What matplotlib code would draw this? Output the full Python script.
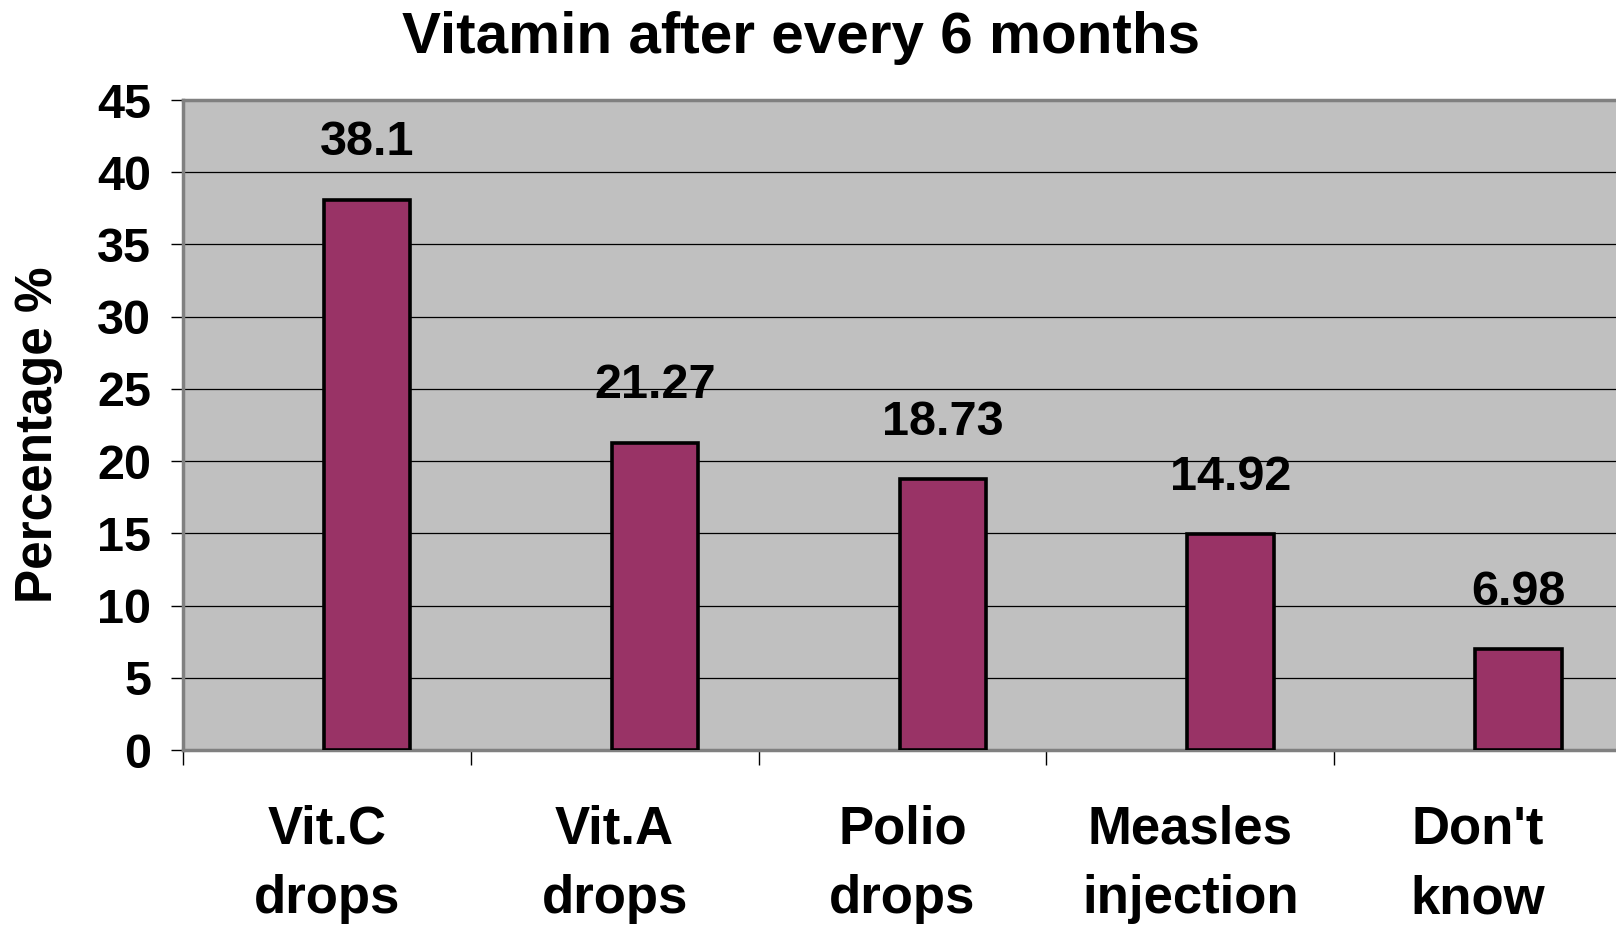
import numpy as np
import matplotlib
matplotlib.use("Agg")
import matplotlib.pyplot as plt

plt.rcParams['font.family'] = ['Liberation Sans', 'DejaVu Sans']
plt.rcParams['font.weight'] = 'bold'

# data
categories = ["Vit.C\ndrops", "Vit.A\ndrops", "Polio\ndrops", "Measles\ninjection", "Don't\nknow"]
values = [38.1, 21.27, 18.73, 14.92, 6.98]
value_labels = ["38.1", "21.27", "18.73", "14.92", "6.98"]
yticks = [0, 5, 10, 15, 20, 25, 30, 35, 40, 45]

fig = plt.figure(figsize=(16.16, 9.32), dpi=100)
ax = fig.add_axes([183/1616, 1 - 750/932, (1622-183)/1616, 650/932])
ax.set_facecolor('#C0C0C0')

x = np.arange(len(categories))
bars = ax.bar(x + 0.14, values, width=0.30, color='#993366',
              edgecolor='black', linewidth=2.6, zorder=3)

for xi, v, lab in zip(x, values, value_labels):
    ax.annotate(lab, (xi + 0.14, v), xytext=(0, 32), textcoords='offset points',
                ha='center', va='baseline', fontsize=35, fontweight='bold')

ax.set_xlim(-0.5, 4.5)
ax.set_ylim(0, 45)
ax.set_yticks(yticks)
ax.yaxis.grid(True, color='black', linewidth=0.9, zorder=1)
ax.set_axisbelow(True)
ax.tick_params(axis='y', length=9, width=1, pad=14, labelsize=35, color='black')

ax.set_xticks(x)
ax.set_xticklabels(categories, fontsize=38, fontweight='bold', linespacing=1.52)
ax.tick_params(axis='x', which='major', length=0, pad=39)
ax.set_xticks(np.arange(-0.5, 5.0, 1.0), minor=True)
ax.tick_params(axis='x', which='minor', length=11, width=1, color='black')

for s in ['left', 'top', 'bottom']:
    ax.spines[s].set_color('#808080')
    ax.spines[s].set_linewidth(2.5)
ax.spines['right'].set_visible(False)

fig.text(801/1616, 1 - 38/932, "Vitamin after every 6 months", ha='center', va='center',
         fontsize=42, fontweight='bold')
fig.text(39/1616, 1 - 435/932, "Percentage %", rotation=90, ha='center', va='center',
         fontsize=37, fontweight='bold')

fig.savefig("out.png", dpi=100)
